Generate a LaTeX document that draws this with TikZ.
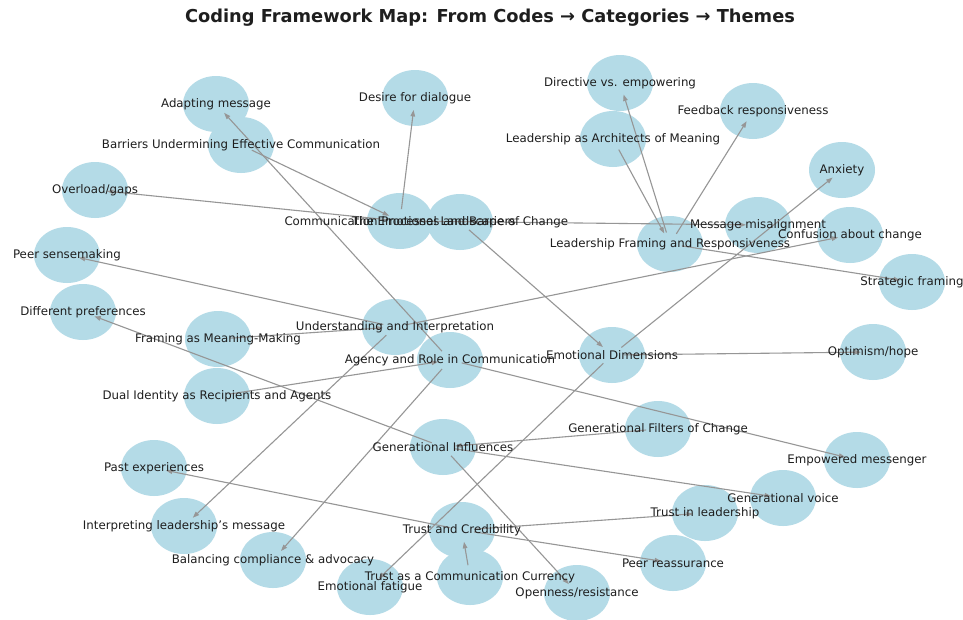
\documentclass[tikz,border=0pt]{standalone}
\usepackage{fontspec}
\setmainfont{DejaVu Sans}
\usetikzlibrary{arrows.meta,shapes.geometric}
\definecolor{nodeblue}{RGB}{180,219,231}
\definecolor{edgegray}{RGB}{150,150,150}
\definecolor{txtc}{RGB}{30,30,30}
\begin{document}
\begin{tikzpicture}[x=1pt,y=-1pt,
  circ/.style={ellipse,minimum width=66pt,minimum height=56pt,inner sep=0pt,fill=nodeblue,draw=none},
  lbl/.style={font=\fontsize{11.8}{13}\selectfont,text=txtc,inner sep=0pt},
  edge/.style={draw=edgegray,line width=1.1pt,-{Triangle[length=6.5pt,width=4.5pt]},shorten <=12pt,shorten >=12pt}]
\useasboundingbox[fill=white] (0,0) rectangle (963,619);

% title
\node[font=\bfseries\fontsize{17.8}{20}\selectfont,text=txtc] (title) at (490,18) {Coding Framework Map: From Codes → Categories → Themes};

% circles
\node[circ] (adapt) at (216,104) {};
\node[circ] (bar) at (241,145) {};
\node[circ] (desire) at (415,98) {};
\node[circ] (over) at (95,190) {};
\node[circ] (cp) at (400,221) {};
\node[circ] (el) at (460,222) {};
\node[circ] (dir) at (620,83) {};
\node[circ] (arch) at (613,139) {};
\node[circ] (feed) at (753,111) {};
\node[circ] (anx) at (842,170) {};
\node[circ] (lf) at (670,244) {};
\node[circ] (mis) at (758,225) {};
\node[circ] (conf) at (850,235) {};
\node[circ] (strat) at (912,282) {};
\node[circ] (peer) at (67,255) {};
\node[circ] (diff) at (83,312) {};
\node[circ] (fmm) at (218,339) {};
\node[circ] (und) at (395,327) {};
\node[circ] (agency) at (450,360) {};
\node[circ] (dual) at (217,396) {};
\node[circ] (ed) at (612,355) {};
\node[circ] (opt) at (873,352) {};
\node[circ] (gf) at (658,429) {};
\node[circ] (gi) at (443,447) {};
\node[circ] (emp) at (857,460) {};
\node[circ] (past) at (154,468) {};
\node[circ] (gv) at (783,498) {};
\node[circ] (til) at (705,513) {};
\node[circ] (interp) at (184,526) {};
\node[circ] (tc) at (462,530) {};
\node[circ] (bal) at (273,560) {};
\node[circ] (peerr) at (673,563) {};
\node[circ] (tcc) at (470,577) {};
\node[circ] (fat) at (370,587) {};
\node[circ] (open) at (577,593) {};

% edges
\draw[edge] (bar.center) -- (cp.center);
\draw[edge] (cp.center) -- (desire.center);
\draw[edge] (cp.center) -- (over.center);
\draw[edge] (cp.center) -- (mis.center);
\draw[edge] (el.center) -- (ed.center);
\draw[edge] (ed.center) -- (anx.center);
\draw[edge] (ed.center) -- (opt.center);
\draw[edge] (ed.center) -- (fat.center);
\draw[edge] (arch.center) -- (lf.center);
\draw[edge] (lf.center) -- (dir.center);
\draw[edge] (lf.center) -- (feed.center);
\draw[edge] (lf.center) -- (strat.center);
\draw[edge] (fmm.center) -- (und.center);
\draw[edge] (und.center) -- (peer.center);
\draw[edge] (und.center) -- (interp.center);
\draw[edge] (und.center) -- (conf.center);
\draw[edge] (dual.center) -- (agency.center);
\draw[edge] (agency.center) -- (adapt.center);
\draw[edge] (agency.center) -- (bal.center);
\draw[edge] (agency.center) -- (emp.center);
\draw[edge] (gf.center) -- (gi.center);
\draw[edge] (gi.center) -- (diff.center);
\draw[edge] (gi.center) -- (gv.center);
\draw[edge] (gi.center) -- (open.center);
\draw[edge] (tcc.center) -- (tc.center);
\draw[edge] (tc.center) -- (past.center);
\draw[edge] (tc.center) -- (til.center);
\draw[edge] (tc.center) -- (peerr.center);

% labels
\node[lbl] (adapt-l) at (adapt) {Adapting message};
\node[lbl] (bar-l) at (bar) {Barriers Undermining Effective Communication};
\node[lbl] (desire-l) at (desire) {Desire for dialogue};
\node[lbl] (over-l) at (over) {Overload/gaps};
\node[lbl] (cp-l) at (cp) {Communication Processes and Barriers};
\node[lbl] (el-l) at (el) {The Emotional Landscape of Change};
\node[lbl] (dir-l) at (dir) {Directive vs. empowering};
\node[lbl] (arch-l) at (arch) {Leadership as Architects of Meaning};
\node[lbl] (feed-l) at (feed) {Feedback responsiveness};
\node[lbl] (anx-l) at (anx) {Anxiety};
\node[lbl] (lf-l) at (lf) {Leadership Framing and Responsiveness};
\node[lbl] (mis-l) at (mis) {Message misalignment};
\node[lbl] (conf-l) at (conf) {Confusion about change};
\node[lbl] (strat-l) at (strat) {Strategic framing};
\node[lbl] (peer-l) at (peer) {Peer sensemaking};
\node[lbl] (diff-l) at (diff) {Different preferences};
\node[lbl] (fmm-l) at (fmm) {Framing as Meaning-Making};
\node[lbl] (und-l) at (und) {Understanding and Interpretation};
\node[lbl] (agency-l) at (agency) {Agency and Role in Communication};
\node[lbl] (dual-l) at (dual) {Dual Identity as Recipients and Agents};
\node[lbl] (ed-l) at (ed) {Emotional Dimensions};
\node[lbl] (opt-l) at (opt) {Optimism/hope};
\node[lbl] (gf-l) at (gf) {Generational Filters of Change};
\node[lbl] (gi-l) at (gi) {Generational Influences};
\node[lbl] (emp-l) at (emp) {Empowered messenger};
\node[lbl] (past-l) at (past) {Past experiences};
\node[lbl] (gv-l) at (gv) {Generational voice};
\node[lbl] (til-l) at (til) {Trust in leadership};
\node[lbl] (interp-l) at (interp) {Interpreting leadership’s message};
\node[lbl] (tc-l) at (tc) {Trust and Credibility};
\node[lbl] (bal-l) at (bal) {Balancing compliance \& advocacy};
\node[lbl] (peerr-l) at (peerr) {Peer reassurance};
\node[lbl] (tcc-l) at (tcc) {Trust as a Communication Currency};
\node[lbl] (fat-l) at (fat) {Emotional fatigue};
\node[lbl] (open-l) at (open) {Openness/resistance};
\end{tikzpicture}
\end{document}
